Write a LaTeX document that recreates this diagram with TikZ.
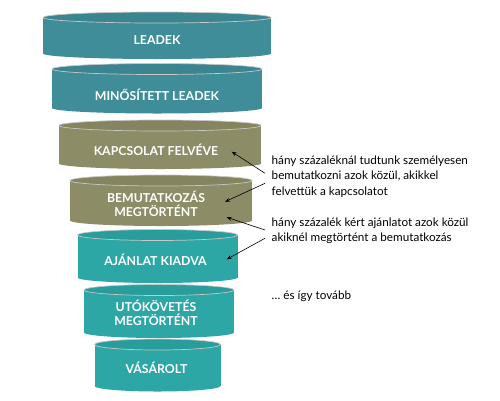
\documentclass[tikz,border=0pt]{standalone}
\usepackage{fontspec}
\setmainfont{Lato}
\usetikzlibrary{arrows.meta}
\definecolor{tealA}{RGB}{62,141,153}
\definecolor{oliveA}{RGB}{140,140,102}
\definecolor{turqA}{RGB}{44,167,166}
\newcommand\drawfunnelcyl[5]{%
  \fill[#5] ({#1-#2},#3) rectangle ({#1+#2},#4);
  \fill[#5] (#1,#4) ellipse [x radius=#2pt, y radius=5.5pt];
  \fill[#5!94!black] (#1,#3) ellipse [x radius=#2pt, y radius=5.5pt];
  \draw[black!22, line width=0.7pt] (#1,#3) ellipse [x radius=#2pt, y radius=5.5pt];
}
\tikzset{
  cyllabel/.style={text=white, font=\fontsize{12.3}{14.5}\selectfont\bfseries, align=center, inner sep=0pt},
  note/.style={font=\fontsize{11.7}{15.5}\selectfont, align=left, anchor=west, inner sep=0pt},
  pointer/.style={-{Stealth[length=5pt,width=4pt]}, line width=0.6pt, black}
}
\begin{document}
\begin{tikzpicture}[x=1pt,y=-1pt]
\useasboundingbox (0,0) rectangle (500,400);
\fill[white] (0,0) rectangle (500,400);
\drawfunnelcyl{157}{114}{17.5}{53.5}{tealA}
\drawfunnelcyl{157}{105}{69}{108}{tealA}
\drawfunnelcyl{160}{101}{125.5}{163.5}{oliveA}
\drawfunnelcyl{161}{91}{180.5}{220.5}{oliveA}
\drawfunnelcyl{157.5}{80}{235}{277.5}{turqA}
\drawfunnelcyl{159}{75}{290}{332.5}{turqA}
\drawfunnelcyl{157.5}{63}{344.5}{386}{turqA}
\node[cyllabel] (l1) at (157,40.5) {LEADEK};
\node[cyllabel] (l2) at (157,95) {MINŐSÍTETT LEADEK};
\node[cyllabel] (l3) at (156,150) {KAPCSOLAT FELVÉVE};
\node[cyllabel] (l4) at (156,204) {BEMUTATKOZÁS\\MEGTÖRTÉNT};
\node[cyllabel] (l5) at (155.5,260) {AJÁNLAT KIADVA};
\node[cyllabel] (l6) at (156,313) {UTÓKÖVETÉS\\MEGTÖRTÉNT};
\node[cyllabel] (l7) at (156.5,368) {VÁSÁROLT};
\node[note] (n1) at (271.5,176.3) {hány százaléknál tudtunk személyesen\\bemutatkozni azok közül, akikkel\\felvettük a kapcsolatot};
\node[note] (n2) at (271.5,231) {hány százalék kért ajánlatot azok közül\\akiknél megtörtént a bemutatkozás};
\node[note] (n3) at (271.5,296.7) {… és így tovább};
\coordinate (t1) at (265,173.3);
\coordinate (h1) at (231.7,151.7);
\coordinate (t2) at (265,183.3);
\coordinate (h2) at (225,201.7);
\coordinate (t3) at (265,230);
\coordinate (h3) at (226.7,217.3);
\coordinate (t4) at (265,238.3);
\coordinate (h4) at (226.7,259.3);
\draw[pointer] (t1) -- (h1);
\draw[pointer] (t2) -- (h2);
\draw[pointer] (t3) -- (h3);
\draw[pointer] (t4) -- (h4);
\end{tikzpicture}
\end{document}
